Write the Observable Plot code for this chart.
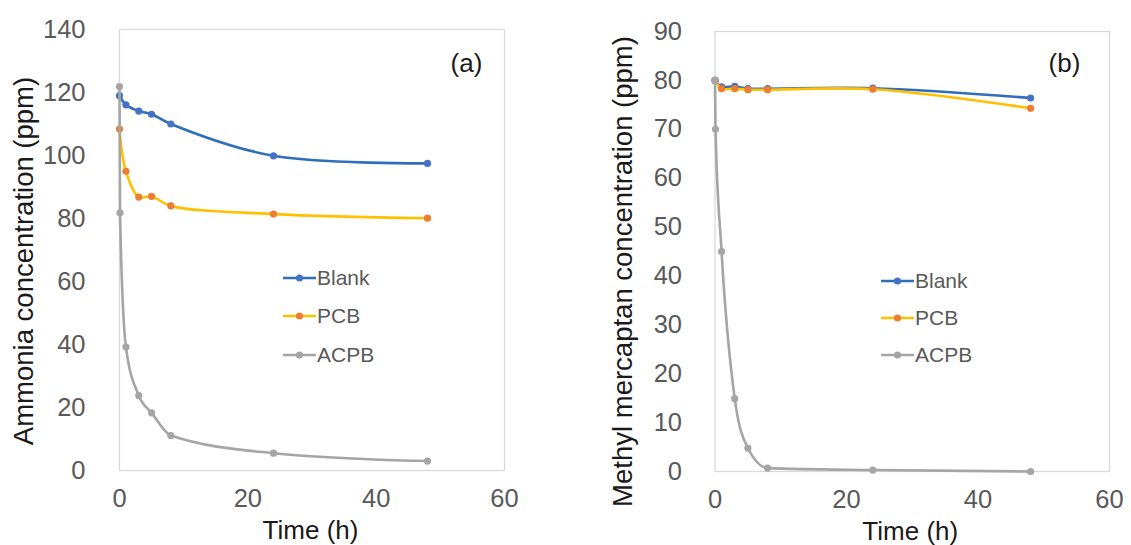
<!DOCTYPE html>
<html>
<head>
<meta charset="utf-8">
<script src="https://cdn.jsdelivr.net/npm/d3@7"></script>
<script src="https://cdn.jsdelivr.net/npm/@observablehq/plot@0.6"></script>
<style>
  html, body { margin: 0; padding: 0; background: #fff; }
  #wrap { position: relative; width: 1131px; height: 545px; overflow: hidden; font-family: "Liberation Sans", Arial, sans-serif; }
  .panel { position: absolute; top: 0; }
  .legend { position: absolute; font-size: 21px; color: #595959; }
  .legend .item { position: absolute; white-space: nowrap; display: flex; align-items: center; }
</style>
</head>
<body>
<div id="wrap"></div>
<script>
// ---- data ----
const seriesNames = ["Blank", "PCB", "ACPB"];
const times = [0, 1, 3, 5, 8, 24, 48];
const acpbTimes = [0, 0.08, 1, 3, 5, 8, 24, 48];

const ammoniaBlank = [119, 116.1, 114.1, 113.1, 110, 99.9, 97.5];
const ammoniaPCB = [108.4, 95, 86.8, 87, 84, 81.4, 80.1];
const ammoniaACPB = [121.9, 81.8, 39.2, 23.8, 18.3, 11.1, 5.5, 3];

const mercBlank = [80, 78.7, 78.8, 78.3, 78.3, 78.4, 76.4];
const mercPCB = [80, 78.3, 78.3, 78.1, 78.1, 78.2, 74.3];
const mercACPB = [80, 70, 45, 14.9, 4.8, 0.7, 0.3, 0];

const xTicks = [0, 20, 40, 60];
const yTicksA = [0, 20, 40, 60, 80, 100, 120, 140];
const yTicksB = [0, 10, 20, 30, 40, 50, 60, 70, 80, 90];

const lineColors = {Blank: "#2F6EBA", PCB: "#FFC000", ACPB: "#A5A5A5"};
const dotColors = {Blank: "#4472C4", PCB: "#ED7D31", ACPB: "#A5A5A5"};
const curves = {Blank: "catmull-rom", PCB: "catmull-rom", ACPB: "monotone-x"};

function rows(tArr, vArr, name) {
  return tArr.map((t, i) => ({series: name, t, v: vArr[i]}));
}
const dataA = [
  ...rows(times, ammoniaBlank, "Blank"),
  ...rows(times, ammoniaPCB, "PCB"),
  ...rows(acpbTimes, ammoniaACPB, "ACPB")
];
const dataB = [
  ...rows(times, mercBlank, "Blank"),
  ...rows(times, mercPCB, "PCB"),
  ...rows(acpbTimes, mercACPB, "ACPB")
];

const FONT = "'Liberation Sans', Arial, sans-serif";

function panel(cfg) {
  const seriesMarks = [];
  for (const s of seriesNames) {
    const d = cfg.data.filter(r => r.series === s);
    seriesMarks.push(Plot.line(d, {x: "t", y: "v", curve: curves[s], stroke: lineColors[s], strokeWidth: 2.6}));
    seriesMarks.push(Plot.dot(d, {x: "t", y: "v", r: 3.6, fill: dotColors[s], stroke: "none"}));
  }
  return Plot.plot({
    width: cfg.width,
    height: 545,
    marginLeft: cfg.ml, marginRight: cfg.mr, marginTop: cfg.mt, marginBottom: cfg.mb,
    style: {fontFamily: FONT, color: "#595959", background: "transparent", overflow: "visible"},
    x: {domain: [0, 60]},
    y: {domain: cfg.yDomain},
    marks: [
      Plot.frame({stroke: "#D9D9D9", strokeWidth: 1.3}),
      Plot.axisY({ticks: cfg.yTicks, tickSize: 0, tickPadding: cfg.yPad, fontSize: 25.5, label: null, fill: "#595959"}),
      Plot.axisX({ticks: xTicks, tickSize: 0, tickPadding: 18, fontSize: 25.5, label: null, fill: "#595959"}),
      ...seriesMarks,
      Plot.text([cfg.yTitle], {frameAnchor: "left", dx: cfg.ytDx, dy: cfg.ytDy, rotate: -90, fontSize: 27.5, fill: "#1a1a1a", textAnchor: "middle", lineAnchor: "middle"}),
      Plot.text(["Time (h)"], {frameAnchor: "bottom", dx: cfg.xtDx, dy: 60, fontSize: 26, fill: "#1a1a1a", textAnchor: "middle", lineAnchor: "middle"}),
      Plot.text([cfg.tag], {frameAnchor: "top-right", dx: cfg.tagDx, dy: cfg.tagDy, fontSize: 26, fill: "#1a1a1a", textAnchor: "middle", lineAnchor: "middle"})
    ]
  });
}

const wrap = document.getElementById("wrap");

const a = panel({
  data: dataA, width: 565, ml: 119, mr: 61, mt: 29, mb: 75,
  yDomain: [0, 140], yTicks: yTicksA, yPad: 34,
  yTitle: "Ammonia concentration (ppm)", ytDx: -95, ytDy: 11,
  xtDx: -1.5, tag: "(a)", tagDx: -38, tagDy: 34
});
a.classList.add("panel");
a.style.left = "0px";
wrap.appendChild(a);

const b = panel({
  data: dataB, width: 566, ml: 149.5, mr: 22, mt: 31, mb: 74,
  yDomain: [0, 90], yTicks: yTicksB, yPad: 33,
  yTitle: "Methyl mercaptan concentration (ppm)", ytDx: -91.5, ytDy: 20,
  xtDx: -2, tag: "(b)", tagDx: -45, tagDy: 32
});
b.classList.add("panel");
b.style.left = "565px";
wrap.appendChild(b);

// ---- legends ----
function legend(x0, ys) {
  const lg = document.createElement("div");
  lg.className = "legend";
  lg.style.left = "0px"; lg.style.top = "0px";
  seriesNames.forEach((s, i) => {
    const it = document.createElement("div");
    it.className = "item";
    it.style.left = x0 + "px";
    it.style.top = (ys[i] - 14) + "px";
    it.style.height = "28px";
    it.innerHTML =
      `<svg width="33" height="28" style="display:block"><line x1="0" y1="14" x2="33" y2="14" stroke="${lineColors[s]}" stroke-width="2.6"/><circle cx="16.5" cy="14" r="3.6" fill="${dotColors[s]}"/></svg>` +
      `<span style="margin-left:1px;line-height:28px">${s}</span>`;
    lg.appendChild(it);
  });
  wrap.appendChild(lg);
}
legend(283, [278, 316, 354.5]);
legend(881, [281, 318, 354.5]);
</script>
</body>
</html>
